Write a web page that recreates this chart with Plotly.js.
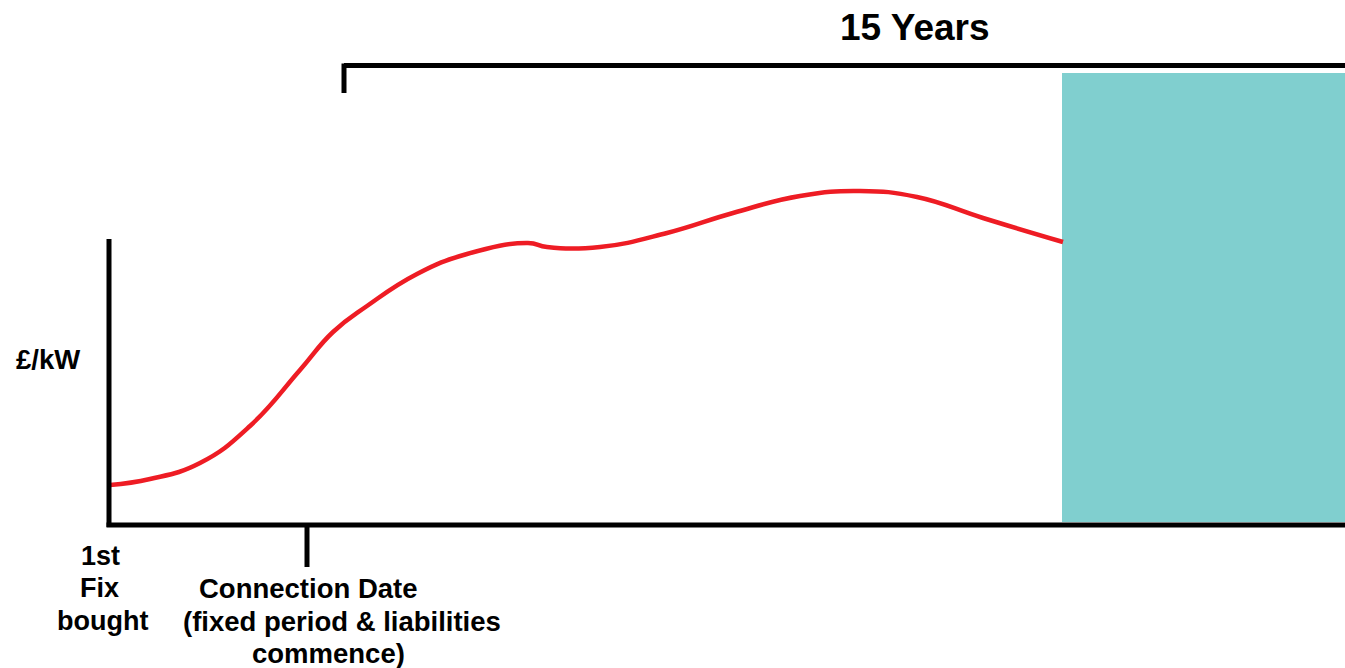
<!DOCTYPE html>
<html>
<head>
<meta charset="utf-8">
<script src="https://cdn.plot.ly/plotly-3.0.1.min.js"></script>
<style>
html,body{margin:0;padding:0;background:#fff;overflow:hidden;}
#chart{width:1345px;height:668px;}
</style>
</head>
<body>
<div id="chart"></div>
<script>
// Price curve (arbitrary time units on x, £/kW arbitrary units on y)
const timeX = [2, 42, 92, 142, 192, 225, 259, 309, 359, 420, 439, 492, 559, 625, 692, 752, 809, 875, 955];
const priceY = [40, 46, 62, 99, 155, 193, 219, 251, 271, 282, 278, 278, 292, 312, 329, 334, 328, 307, 283];

// Key positions on the time axis
const connectionX = 199;
const bracketStartX = 236;
const bracketEndX = 1237;
const fixedEndX = 954;

const yLabel = "£/kW";
const periodLabel = "15 Years";
const startLabelLines = ["1st", "Fix", "bought"];
const connectionLabelLines = ["Connection Date", "(fixed period & liabilities", "commence)"];

const fontBase = {family: "Liberation Sans, Arial, sans-serif", color: "#000", weight: 700};

const trace = {
  x: timeX, y: priceY, type: "scatter", mode: "lines",
  line: {color: "#ee1c24", width: 4.5, shape: "spline", smoothing: 1.3},
  hoverinfo: "skip"
};

const shapes = [
  // teal block (after fixed period)
  {type: "rect", xref: "x", yref: "y", x0: fixedEndX, x1: bracketEndX, y0: 3, y1: 452,
   fillcolor: "#80cfcf", line: {width: 0}, layer: "below"},
  // y axis line
  {type: "line", xref: "x", yref: "y", x0: 1, x1: 1, y0: 286, y1: -2, line: {color: "#000", width: 5}},
  // x axis line
  {type: "line", xref: "x", yref: "y", x0: -1.5, x1: bracketEndX, y0: 0, y1: 0, line: {color: "#000", width: 5}},
  // connection tick
  {type: "line", xref: "x", yref: "y", x0: connectionX, x1: connectionX, y0: 0, y1: -42, line: {color: "#000", width: 5}},
  // bracket
  {type: "line", xref: "x", yref: "y", x0: bracketStartX, x1: bracketEndX, y0: 459.5, y1: 459.5, line: {color: "#000", width: 5}},
  {type: "line", xref: "x", yref: "y", x0: bracketStartX, x1: bracketStartX, y0: 461.5, y1: 432, line: {color: "#000", width: 5}}
];

function ann(text, x, y, size) {
  return {text: text, x: x, y: y, xref: "x", yref: "y", showarrow: false,
          xanchor: "center", yanchor: "middle",
          font: Object.assign({}, fontBase, {size: size})};
}

const annotations = [
  ann(periodLabel, 807, 498, 37),
  ann(yLabel, -60, 166, 27.5),
  ann(startLabelLines[0], -8, -31, 27),
  ann(startLabelLines[1], -9, -63, 27),
  ann(startLabelLines[2], -6, -96, 27),
  ann(connectionLabelLines[0], 199.5, -63, 27.5),
  ann(connectionLabelLines[1], 233.5, -96, 27.5),
  ann(connectionLabelLines[2], 220, -128, 27.5)
];

const layout = {
  width: 1345, height: 668,
  margin: {l: 0, r: 0, t: 0, b: 0},
  paper_bgcolor: "#fff", plot_bgcolor: "#fff",
  showlegend: false,
  xaxis: {range: [-108, 1237], visible: false, fixedrange: true},
  yaxis: {range: [-143, 525], visible: false, fixedrange: true},
  shapes: shapes,
  annotations: annotations
};

Plotly.newPlot("chart", [trace], layout, {displayModeBar: false, staticPlot: true});
</script>
</body>
</html>
